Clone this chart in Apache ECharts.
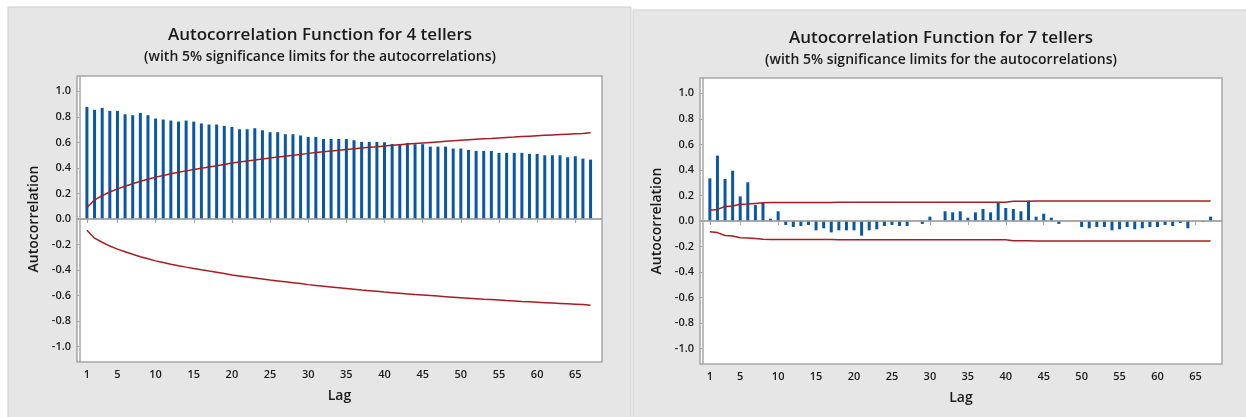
<!DOCTYPE html>
<html>
<head>
<meta charset="utf-8">
<script src="https://cdn.jsdelivr.net/npm/echarts@6/dist/echarts.min.js"></script>
<style>
  html, body { margin: 0; padding: 0; background: #ffffff; }
  #chart { width: 1246px; height: 417px; }
</style>
</head>
<body>
<div id="chart"></div>
<script>
// Lags 1..67
const lags = Array.from({ length: 67 }, (_, i) => i + 1);

// ACF, 4 tellers
const acf4 = [
  0.878, 0.855, 0.870, 0.847, 0.847, 0.820, 0.813, 0.831, 0.813, 0.787,
  0.779, 0.771, 0.763, 0.771, 0.763, 0.748, 0.740, 0.740, 0.729, 0.722,
  0.703, 0.703, 0.711, 0.695, 0.680, 0.680, 0.664, 0.664, 0.654, 0.643,
  0.643, 0.627, 0.627, 0.627, 0.627, 0.617, 0.604, 0.604, 0.604, 0.601,
  0.588, 0.588, 0.596, 0.586, 0.586, 0.567, 0.567, 0.567, 0.552, 0.552,
  0.541, 0.533, 0.533, 0.533, 0.518, 0.518, 0.518, 0.518, 0.510, 0.510,
  0.499, 0.499, 0.499, 0.484, 0.492, 0.473, 0.465
];
// 5% significance limits, 4 tellers
const upper4 = [
  0.088, 0.150, 0.182, 0.212, 0.236, 0.256, 0.276, 0.295, 0.312, 0.328,
  0.341, 0.354, 0.366, 0.377, 0.387, 0.398, 0.408, 0.417, 0.426, 0.438,
  0.446, 0.454, 0.462, 0.470, 0.478, 0.485, 0.492, 0.499, 0.506, 0.514,
  0.520, 0.526, 0.532, 0.538, 0.544, 0.550, 0.556, 0.561, 0.566, 0.572,
  0.577, 0.582, 0.587, 0.592, 0.596, 0.600, 0.604, 0.608, 0.612, 0.616,
  0.620, 0.624, 0.628, 0.631, 0.635, 0.639, 0.642, 0.646, 0.649, 0.652,
  0.655, 0.658, 0.661, 0.664, 0.667, 0.670, 0.675
];
const lower4 = [
  -0.088, -0.150, -0.182, -0.212, -0.236, -0.256, -0.276, -0.295, -0.312, -0.328,
  -0.341, -0.354, -0.366, -0.377, -0.387, -0.398, -0.408, -0.417, -0.426, -0.438,
  -0.446, -0.454, -0.462, -0.470, -0.478, -0.485, -0.492, -0.499, -0.506, -0.514,
  -0.520, -0.526, -0.532, -0.538, -0.544, -0.550, -0.556, -0.561, -0.566, -0.572,
  -0.577, -0.582, -0.587, -0.592, -0.596, -0.600, -0.604, -0.608, -0.612, -0.616,
  -0.620, -0.624, -0.628, -0.631, -0.635, -0.639, -0.642, -0.646, -0.649, -0.652,
  -0.655, -0.658, -0.661, -0.664, -0.667, -0.670, -0.675
];

// ACF, 7 tellers
const acf7 = [
  0.334, 0.512, 0.329, 0.394, 0.193, 0.303, 0.125, 0.141, 0.018, 0.076,
  -0.031, -0.047, -0.039, -0.031, -0.073, -0.057, -0.089, -0.073, -0.073, -0.073,
  -0.115, -0.073, -0.065, -0.039, -0.031, -0.039, -0.039, 0.000, -0.023, 0.034,
  0.000, 0.076, 0.068, 0.076, 0.026, 0.068, 0.094, 0.068, 0.141, 0.102,
  0.094, 0.076, 0.159, 0.034, 0.057, 0.026, -0.023, 0.000, 0.000, -0.047,
  -0.057, -0.047, -0.047, -0.073, -0.065, -0.047, -0.065, -0.057, -0.047, -0.047,
  -0.031, -0.039, -0.016, -0.057, 0.000, -0.008, 0.034
];
// 5% significance limits, 7 tellers
const upper7 = [
  0.085, 0.091, 0.114, 0.118, 0.131, 0.134, 0.138, 0.142, 0.144, 0.145,
  0.145, 0.145, 0.145, 0.145, 0.145, 0.145, 0.145, 0.146, 0.146, 0.146,
  0.146, 0.146, 0.146, 0.146, 0.146, 0.146, 0.146, 0.146, 0.146, 0.146,
  0.146, 0.146, 0.146, 0.146, 0.146, 0.146, 0.146, 0.146, 0.146, 0.147,
  0.154, 0.155, 0.155, 0.156, 0.156, 0.156, 0.156, 0.156, 0.156, 0.156,
  0.156, 0.156, 0.156, 0.156, 0.156, 0.156, 0.156, 0.156, 0.156, 0.156,
  0.156, 0.156, 0.156, 0.156, 0.156, 0.156, 0.156
];
const lower7 = [
  -0.085, -0.091, -0.114, -0.118, -0.131, -0.134, -0.138, -0.142, -0.144, -0.145,
  -0.145, -0.145, -0.145, -0.145, -0.145, -0.145, -0.145, -0.146, -0.146, -0.146,
  -0.146, -0.146, -0.146, -0.146, -0.146, -0.146, -0.146, -0.146, -0.146, -0.146,
  -0.146, -0.146, -0.146, -0.146, -0.146, -0.146, -0.146, -0.146, -0.146, -0.147,
  -0.154, -0.155, -0.155, -0.156, -0.156, -0.156, -0.156, -0.156, -0.156, -0.156,
  -0.156, -0.156, -0.156, -0.156, -0.156, -0.156, -0.156, -0.156, -0.156, -0.156,
  -0.156, -0.156, -0.156, -0.156, -0.156, -0.156, -0.156
];

const lagTicks = [1, 5, 10, 15, 20, 25, 30, 35, 40, 45, 50, 55, 60, 65];
const acfTicks = [-1.0, -0.8, -0.6, -0.4, -0.2, 0, 0.2, 0.4, 0.6, 0.8, 1.0];

const titles = ['Autocorrelation Function for 4 tellers', 'Autocorrelation Function for 7 tellers'];
const subtitle = '(with 5% significance limits for the autocorrelations)';

const FONT = '"Open Sans", "Noto Sans", sans-serif';
const BAR = '#0a57a8';
const LIMIT = '#a61e22';
const FRAME = '#a6a6a6';
const TEXT = '#1a1a1a';

const pairs = (ys) => lags.map((l, i) => [l, ys[i]]);

const panels = [
  { x: 8, y: 7, w: 623, h: 420, cx: 320, ty: 27, grid: { left: 77, top: 76, width: 525, height: 286 } },
  { x: 633, y: 10, w: 620, h: 420, cx: 941, ty: 30, grid: { left: 700, top: 78, width: 522, height: 286 } }
];

function xAxisFor(i) {
  return {
    type: 'value', gridIndex: i, min: -0.3, max: 68.5,
    name: 'Lag', nameLocation: 'middle', nameGap: 27,
    nameTextStyle: { fontFamily: FONT, fontSize: 14, fontWeight: 600, color: TEXT },
    axisLine: { show: true, lineStyle: { color: FRAME, width: 1.5 } },
    axisTick: { show: true, customValues: lagTicks, length: 4, lineStyle: { color: FRAME } },
    axisLabel: { show: true, customValues: lagTicks, fontFamily: FONT, fontSize: 11, fontWeight: 600, color: TEXT, margin: 7 },
    splitLine: { show: false }
  };
}
function yAxisFor(i) {
  return {
    type: 'value', gridIndex: i, min: -1.12, max: 1.12,
    name: 'Autocorrelation', nameLocation: 'middle', nameGap: 36, nameRotate: 90,
    nameTextStyle: { fontFamily: FONT, fontSize: 14, fontWeight: 600, color: TEXT },
    axisLine: { show: true, lineStyle: { color: FRAME, width: 1.5 } },
    axisTick: { show: true, customValues: acfTicks, length: 3, lineStyle: { color: FRAME } },
    axisLabel: {
      show: true, customValues: acfTicks, fontFamily: FONT, fontSize: 11, fontWeight: 600, color: TEXT, margin: 6,
      formatter: (v) => (Math.abs(v) < 1e-9 ? 0 : v).toFixed(1)
    },
    splitLine: { show: false }
  };
}
function seriesFor(i, acf, up, lo) {
  return [
    {
      type: 'bar', xAxisIndex: i, yAxisIndex: i, data: pairs(acf), barWidth: 3,
      itemStyle: { color: BAR }, z: 2,
      markLine: {
        silent: true, symbol: 'none', label: { show: false },
        lineStyle: { color: FRAME, width: 1.5, type: 'solid' },
        data: [{ yAxis: 0 }]
      }
    },
    { type: 'line', xAxisIndex: i, yAxisIndex: i, data: pairs(up), showSymbol: false, lineStyle: { color: LIMIT, width: 1.5 }, z: 3 },
    { type: 'line', xAxisIndex: i, yAxisIndex: i, data: pairs(lo), showSymbol: false, lineStyle: { color: LIMIT, width: 1.5 }, z: 3 }
  ];
}

const chart = echarts.init(document.getElementById('chart'), null, { renderer: 'canvas' });
chart.setOption({
  animation: false,
  backgroundColor: '#ffffff',
  graphic: panels.map((p) => ({
    type: 'rect', silent: true, z: -10,
    shape: { x: p.x, y: p.y, width: p.w, height: p.h },
    style: { fill: '#e6e6e6', stroke: '#cfcfcf', lineWidth: 1 }
  })),
  title: panels.map((p, i) => ({
    text: titles[i], subtext: subtitle,
    left: p.cx, top: p.ty, textAlign: 'center', itemGap: 6, padding: 0,
    textStyle: { fontFamily: FONT, fontSize: 17, fontWeight: 600, color: TEXT },
    subtextStyle: { fontFamily: FONT, fontSize: 14, fontWeight: 600, color: TEXT }
  })),
  grid: panels.map((p) => Object.assign({
    show: true, backgroundColor: '#ffffff', borderColor: FRAME, borderWidth: 1.5, containLabel: false
  }, p.grid)),
  xAxis: [xAxisFor(0), xAxisFor(1)],
  yAxis: [yAxisFor(0), yAxisFor(1)],
  series: [].concat(seriesFor(0, acf4, upper4, lower4), seriesFor(1, acf7, upper7, lower7))
});
</script>
</body>
</html>
